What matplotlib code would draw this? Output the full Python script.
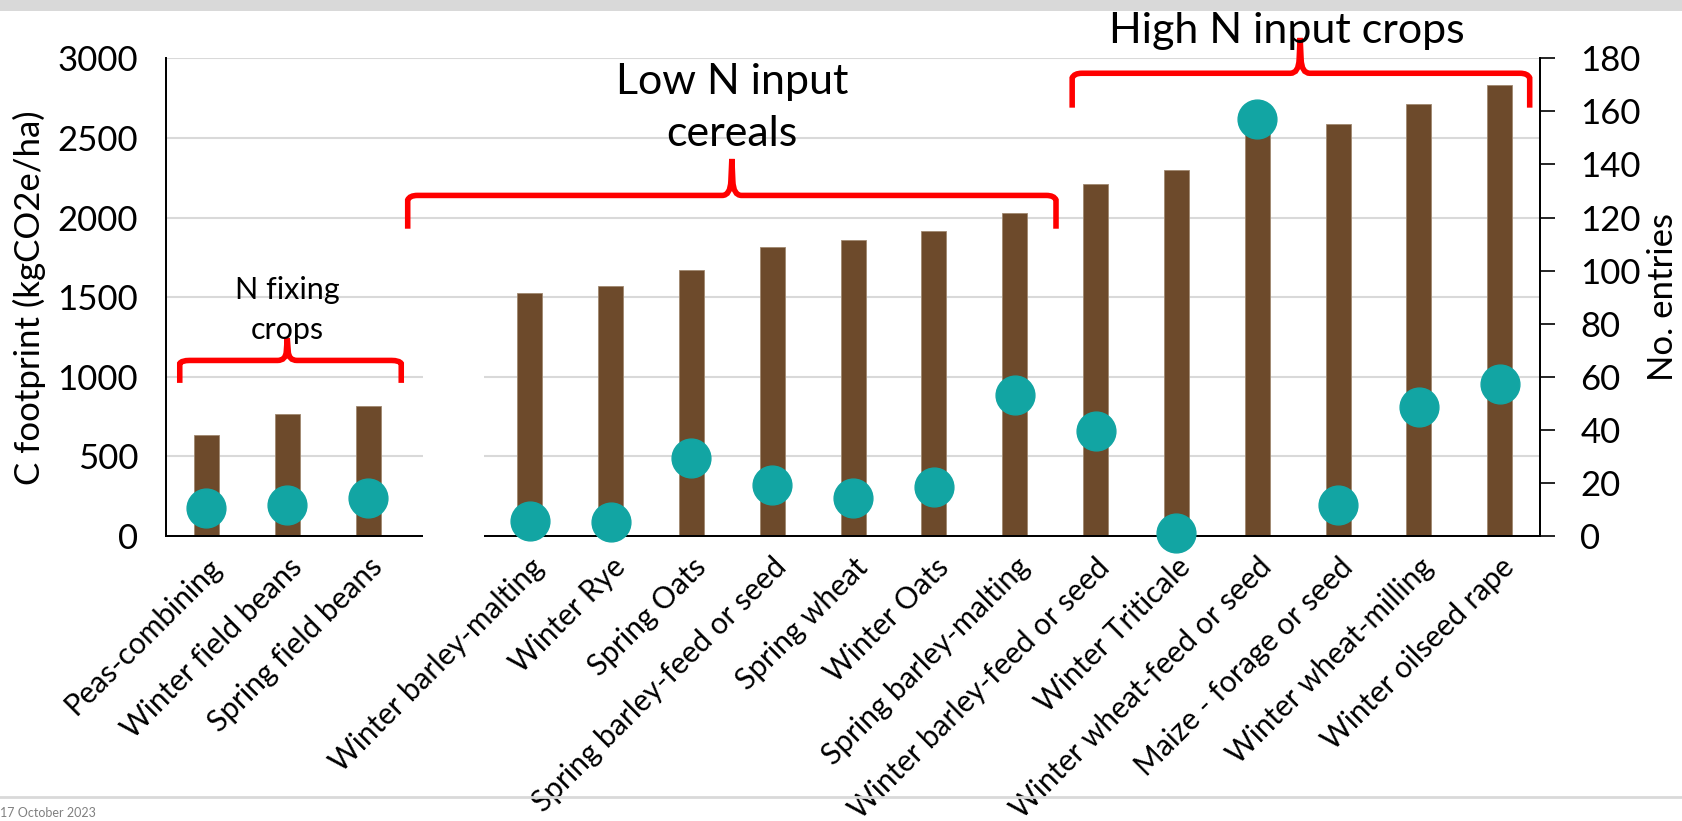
import matplotlib
matplotlib.use("Agg")
import matplotlib.pyplot as plt
from matplotlib.path import Path
from matplotlib.patches import PathPatch, Rectangle
import numpy as np

plt.rcParams['font.family'] = ['Lato', 'DejaVu Sans']

crops = ["Peas-combining", "Winter field beans", "Spring field beans", "",
         "Winter barley-malting", "Winter Rye", "Spring Oats",
         "Spring barley-feed or seed", "Spring wheat", "Winter Oats",
         "Spring barley-malting", "Winter barley-feed or seed", "Winter Triticale",
         "Winter wheat-feed or seed", "Maize - forage or seed", "Winter wheat-milling",
         "Winter oilseed rape"]
footprint = [632, 767, 818, np.nan, 1525, 1572, 1668, 1816, 1857, 1915, 2031,
             2213, 2298, 2620, 2585, 2715, 2832]
entries = [10.5, 11.7, 14.5, np.nan, 5.6, 5.2, 29.5, 19.4, 14.5, 18.6, 53.3,
           39.5, 1.2, 157, 11.7, 48.8, 57.3]

brown = '#6D4A2B'
teal = '#12A5A3'
red = '#FF0000'

fig = plt.figure(figsize=(16.82, 8.21), dpi=100)
ax = fig.add_axes([0.0987, 0.347, 0.817, 0.582])
ax2 = ax.twinx()

x = np.arange(len(crops))
ax.bar(x, footprint, width=0.31, color=brown, edgecolor='#A08870', linewidth=0.6, zorder=2)
ax2.scatter(x, entries, s=780, color=teal, zorder=3, clip_on=False)

ax.set_xlim(-0.5, len(crops) - 0.5)
ax.set_ylim(0, 3000)
ax2.set_ylim(0, 180)
ax.set_yticks(range(0, 3001, 500))
ax2.set_yticks(range(0, 181, 20))
ax.yaxis.grid(True, color='#D9D9D9', linewidth=1.5, zorder=0)
ax.set_axisbelow(True)

ax.set_xticks(x)
ax.set_xticklabels(crops, rotation=45, ha='right', rotation_mode='anchor', fontsize=21.5)
ax.tick_params(axis='x', length=0, pad=12)
ax.tick_params(axis='y', length=0, labelsize=25, pad=20)
ax2.tick_params(axis='y', length=11, width=1.2, labelsize=25, pad=18)

for a in (ax, ax2):
    a.spines['top'].set_visible(False)
    for s in ('left', 'right', 'bottom'):
        a.spines[s].set_color('black')
        a.spines[s].set_linewidth(1.3)

ax.set_ylabel("C footprint (kgCO2e/ha)", fontsize=25, labelpad=8)
ax2.set_ylabel("No. entries", fontsize=25, labelpad=4)

# gap between the two groups of bars (hides axis line and lower gridlines)
ax2.add_patch(Rectangle((2.68, -1.5), 0.75, 73, transform=ax2.transData,
                        facecolor='white', edgecolor='none', zorder=5, clip_on=False))


def brace(a, x0, x1, xm, ylev, yend, ytip):
    dx = 0.12
    dy = (ylev - yend) * 0.45
    verts = [(x0, yend), (x0, ylev - dy * 0.3), (x0 + dx * 0.2, ylev), (x0 + dx, ylev),
             (xm - dx, ylev), (xm - dx * 0.15, ylev), (xm - dx * 0.1, ylev + (ytip - ylev) * 0.4),
             (xm, ytip),
             (xm + dx * 0.1, ylev + (ytip - ylev) * 0.4), (xm + dx * 0.15, ylev), (xm + dx, ylev),
             (x1 - dx, ylev), (x1 - dx * 0.2, ylev), (x1, ylev - dy * 0.3), (x1, yend)]
    codes = [Path.MOVETO, Path.LINETO, Path.CURVE3, Path.CURVE3,
             Path.LINETO, Path.CURVE3, Path.CURVE3, Path.LINETO,
             Path.LINETO, Path.CURVE3, Path.CURVE3,
             Path.LINETO, Path.CURVE3, Path.CURVE3, Path.LINETO]
    a.add_patch(PathPatch(Path(verts, codes), facecolor='none', edgecolor=red,
                          linewidth=4, zorder=6, clip_on=False, capstyle='butt'))


# brace levels in left-axis units, drawn on the right axis (3000 -> 180)
k = 180 / 3000
brace(ax2, -0.33, 2.41, 1.0, 1103 * k, 962 * k, 1244 * k)
brace(ax2, 2.49, 10.51, 6.5, 2139 * k, 1930 * k, 2368 * k)
brace(ax2, 10.71, 16.37, 13.53, 2906 * k, 2690 * k, 3128 * k)

ax2.text(1.0, 1420 * k, "N fixing\ncrops", ha='center', va='center', fontsize=22,
         linespacing=1.55, zorder=7)
ax2.text(6.5, 2690 * k, "Low N input\ncereals", ha='center', va='center', fontsize=31,
         linespacing=1.45, zorder=7)
ax2.text(13.36, 3170 * k, "High N input crops", ha='center', va='center', fontsize=31,
         zorder=7, clip_on=False)

# slide frame
fig.patches.append(Rectangle((0, 1 - 11 / 821), 1, 11 / 821, transform=fig.transFigure,
                             facecolor='#D9D9D9', edgecolor='none'))
fig.add_artist(plt.Line2D([0, 1], [1 - 797 / 821, 1 - 797 / 821], color='#D9D9D9',
                          linewidth=2, transform=fig.transFigure))
fig.text(0.0, 0.002, "17 October 2023", fontsize=9, color='#808080', ha='left', va='bottom')

fig.savefig("out.png", dpi=100)
